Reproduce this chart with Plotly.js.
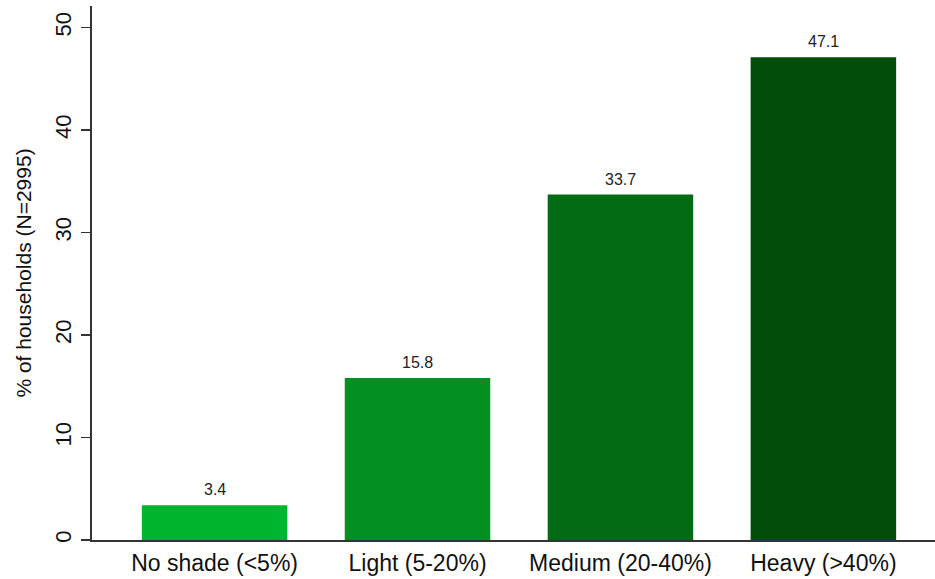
<!DOCTYPE html>
<html>
<head>
<meta charset="utf-8">
<script src="https://cdn.plot.ly/plotly-3.0.1.min.js"></script>
<style>html,body{margin:0;padding:0;background:#fff;}#chart{width:935px;height:579px;}</style>
</head>
<body>
<div id="chart"></div>
<script>
const categories = ["No shade (<5%)", "Light (5-20%)", "Medium (20-40%)", "Heavy (>40%)"];
const values = [3.4, 15.8, 33.7, 47.1];
const valueLabels = ["3.4", "15.8", "33.7", "47.1"];
const barColors = ["#00b52e", "#038f22", "#026b14", "#024d0a"];
const yTicks = [0, 10, 20, 30, 40, 50];
const yTitle = "% of households (N=2995)";

const xIdx = categories.map((c, i) => i);

const trace = {
  type: "bar",
  x: xIdx,
  y: values,
  width: 0.717,
  marker: {color: barColors, line: {width: 0}},
  hoverinfo: "skip"
};

const annotations = xIdx.map((x, i) => ({
  x: x, y: values[i], xref: "x", yref: "y",
  text: valueLabels[i], showarrow: false,
  yanchor: "bottom", yshift: 5,
  font: {family: "Liberation Sans, Arial, sans-serif", size: 16, color: "#222"}
}));

const layout = {
  width: 935, height: 579,
  margin: {l: 92, r: 0, t: 6, b: 39},
  paper_bgcolor: "#fff", plot_bgcolor: "#fff",
  font: {family: "Liberation Sans, Arial, sans-serif", color: "#111"},
  showlegend: false,
  xaxis: {
    range: [-0.604, 3.55],
    tickmode: "array", tickvals: xIdx, ticktext: categories,
    ticks: "", showgrid: false, zeroline: false,
    showline: true, linecolor: "#333", linewidth: 2,
    tickfont: {size: 23, color: "#111"},
    ticklabelstandoff: 1
  },
  yaxis: {
    range: [0, 52.1],
    tickmode: "array", tickvals: yTicks, ticktext: yTicks.map(String),
    ticks: "outside", ticklen: 9, tickwidth: 1.5, tickcolor: "#333",
    tickangle: -90,
    tickfont: {size: 22, color: "#111"},
    showgrid: false, zeroline: false,
    showline: true, linecolor: "#333", linewidth: 2,
    ticklabelstandoff: 1,
    title: {text: yTitle, font: {size: 21, color: "#111"}, standoff: 14}
  },
  annotations: annotations
};

Plotly.newPlot("chart", [trace], layout, {staticPlot: true, displayModeBar: false});
</script>
</body>
</html>
